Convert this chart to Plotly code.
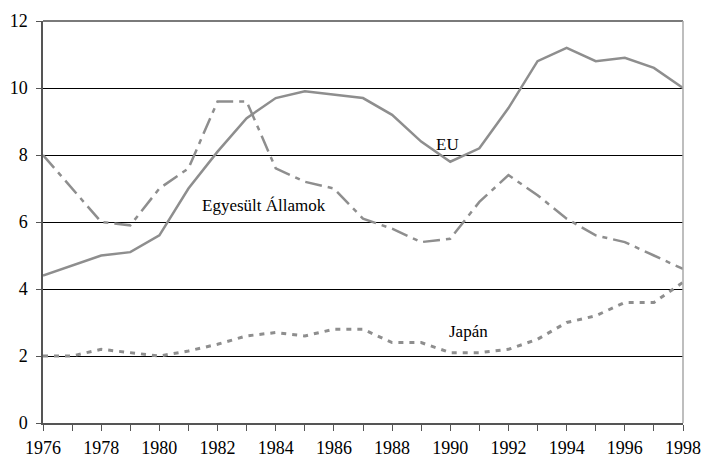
import plotly.graph_objects as go

years = list(range(1976, 1999))
eu = [4.4, 4.7, 5.0, 5.1, 5.6, 7.0, 8.1, 9.1, 9.7, 9.9, 9.8, 9.7, 9.2, 8.4, 7.8, 8.2, 9.4, 10.8, 11.2, 10.8, 10.9, 10.6, 10.0]
us = [8.0, 7.0, 6.0, 5.9, 7.0, 7.6, 9.6, 9.6, 7.6, 7.2, 7.0, 6.1, 5.8, 5.4, 5.5, 6.6, 7.4, 6.8, 6.1, 5.6, 5.4, 5.0, 4.6]
jp = [2.0, 2.0, 2.2, 2.1, 2.0, 2.15, 2.35, 2.6, 2.7, 2.6, 2.8, 2.8, 2.4, 2.4, 2.1, 2.1, 2.2, 2.5, 3.0, 3.2, 3.6, 3.6, 4.2]
x_tick_text = [str(y) if y % 2 == 0 else "" for y in years]
y_ticks = [0, 2, 4, 6, 8, 10, 12]

series_names = ["EU", "Egyesült Államok", "Japán"]
label_pos = [(1989.92, 8.31), (1983.58, 6.5), (1990.64, 2.73)]

FONT = "Liberation Serif, Times New Roman, DejaVu Serif, serif"
LINE = "#8e8e8e"
TICKFONT = dict(family=FONT, size=18, color="black")

fig = go.Figure()
fig.add_trace(go.Scatter(x=years, y=eu, mode="lines", name=series_names[0],
                         line=dict(color=LINE, width=2.5)))
fig.add_trace(go.Scatter(x=years, y=us, mode="lines", name=series_names[1],
                         line=dict(color=LINE, width=2.5, dash="17px,6px,5px,6px")))
fig.add_trace(go.Scatter(x=years, y=jp, mode="lines", name=series_names[2],
                         line=dict(color=LINE, width=3, dash="5px,6px")))

for name, (lx, ly) in zip(series_names, label_pos):
    fig.add_annotation(x=lx, y=ly, text=name, showarrow=False,
                       font=dict(family=FONT, size=17, color="black"))

# plot border (top and right)
fig.add_shape(type="line", xref="paper", yref="paper", x0=0, x1=1, y0=1, y1=1,
              line=dict(color="#7a7a7a", width=2))
fig.add_shape(type="line", xref="paper", yref="paper", x0=1, x1=1, y0=0, y1=1,
              line=dict(color="#a8a8a8", width=1.5))

fig.update_layout(
    width=701, height=459,
    margin=dict(l=43, r=18, t=21, b=36, autoexpand=False),
    paper_bgcolor="white", plot_bgcolor="white",
    showlegend=False,
    font=dict(family=FONT, size=17, color="black"),
    xaxis=dict(range=[1976, 1998], tickmode="array", tickvals=years, ticktext=x_tick_text,
               ticks="outside", ticklen=6, tickcolor="#555555", tickwidth=1,
               tickfont=TICKFONT, ticklabelstandoff=2,
               showline=True, linecolor="#555555", linewidth=1.5,
               showgrid=False, zeroline=False, automargin=False),
    yaxis=dict(range=[0, 12], tickmode="array", tickvals=y_ticks,
               ticks="outside", ticklen=5, tickcolor="#555555", tickwidth=1,
               tickfont=TICKFONT, ticklabelstandoff=5,
               showline=True, linecolor="#555555", linewidth=1.5,
               showgrid=True, gridcolor="black", gridwidth=1,
               zeroline=False, automargin=False),
)

fig.write_html("out.html", config={"displayModeBar": False},
               post_script="document.body.style.margin='0';document.body.style.padding='0';")
